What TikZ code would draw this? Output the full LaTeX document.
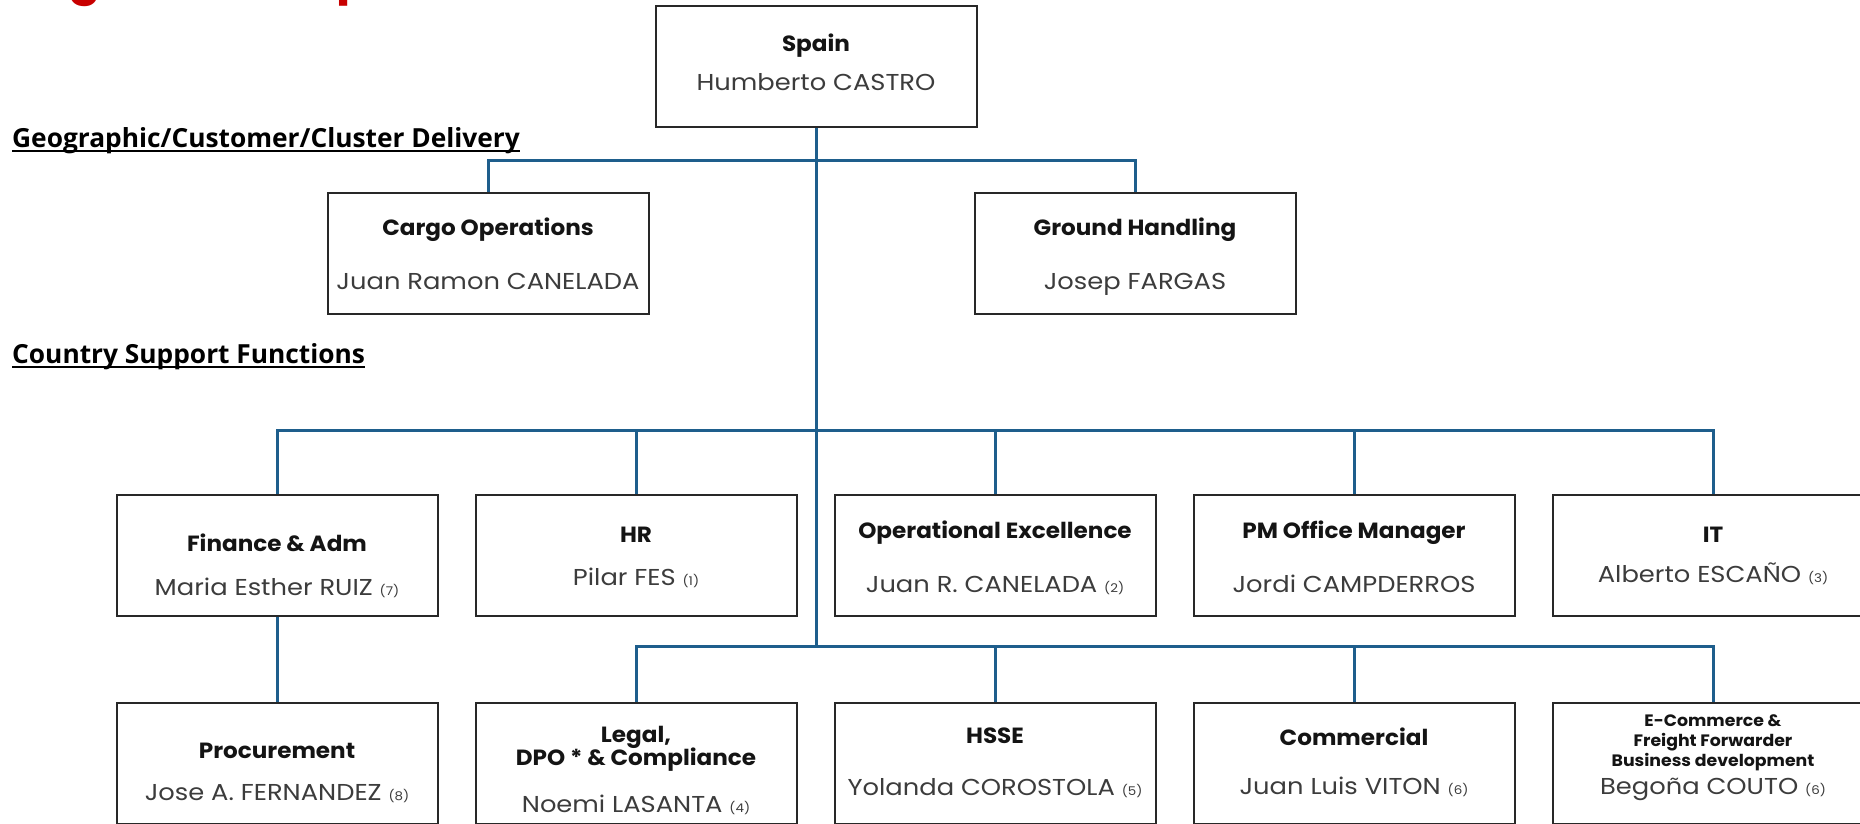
\documentclass[tikz,border=0pt]{standalone}
\usepackage{fontspec}
\newfontfamily\popp{Poppins}
\newfontfamily\poppt{Poppins}[FakeStretch=1.05]
\newfontfamily\poppn{Poppins}[FakeStretch=1.12]
\newfontfamily\osans{Open Sans}
\definecolor{linkblue}{RGB}{30,94,140}
\definecolor{boxline}{RGB}{40,40,40}
\definecolor{titlecol}{RGB}{20,20,20}
\definecolor{namecol}{RGB}{60,60,60}
\definecolor{headred}{RGB}{200,0,0}
\newcommand\titlef{\poppt\bfseries\fontsize{22}{24}\selectfont}
\newcommand\namef{\poppn\fontsize{23}{26}\selectfont}
\newcommand\smallttlf{\poppt\bfseries\fontsize{16.5}{19}\selectfont}
\newcommand\sectf{\osans\bfseries\fontsize{26.3}{29}\selectfont}
\newcommand\fnum[1]{{\fontsize{12}{14}\selectfont(#1)}}
\begin{document}
\begin{tikzpicture}[x=1pt,y=-1pt,
  box/.style={draw=boxline, line width=2pt, minimum width=321pt, minimum height=121pt, inner sep=0pt},
  ttl/.style={anchor=base, inner sep=0pt, text=titlecol, font=\titlef},
  subttl/.style={anchor=base, inner sep=0pt, text=titlecol, font=\smallttlf},
  nm/.style={anchor=base, inner sep=0pt, text=namecol, font=\namef},
  sect/.style={anchor=base west, inner sep=0pt, text=black, font=\sectf},
  underl/.style={draw=black, line width=2pt},
  link/.style={draw=linkblue, line width=3pt}]
\useasboundingbox (0,0) rectangle (1860,823);

% heading, mostly above the page edge
\node[anchor=base west, inner sep=0pt, text=headred,
      font=\popp\bfseries\fontsize{48}{50}\selectfont] (heading) at (10,-7) {Org Chart – Spain};

% section captions, underlined
\node[sect] (geo) at (12,147) {Geographic/Customer/Cluster Delivery};
\node[sect] (csf) at (12,363) {Country Support Functions};
\draw[underl] ([yshift=-3.5pt]geo.base west) -- ([yshift=-3.5pt]geo.base east);
\draw[underl] ([yshift=-3.5pt]csf.base west) -- ([yshift=-3.5pt]csf.base east);

% boxes
\node[box] (spain)  at (816,66.5) {};
\node[box] (cargo)  at (488,253) {};
\node[box] (ground) at (1135,253) {};
\node[box] (fin)    at (277,555.5) {};
\node[box] (hr)     at (636,555.5) {};
\node[box] (opex)   at (995,555.5) {};
\node[box] (pmo)    at (1354,555.5) {};
\node[box] (it)     at (1713,555.5) {};
\node[box] (proc)   at (277,763.5) {};
\node[box] (legal)  at (636,763.5) {};
\node[box] (hsse)   at (995,763.5) {};
\node[box] (comm)   at (1354,763.5) {};
\node[box] (ecom)   at (1713,763.5) {};

% bus junctions on the trunk
\coordinate (busTop) at (816,160);
\coordinate (busMid) at (816,430);
\coordinate (busLow) at (816,646);

% connectors
\draw[link] (spain.south) -- (busLow);
\draw[link] (cargo.north) |- (busTop) -| (ground.north);
\draw[link] (fin.north) |- (busMid) -| (it.north);
\draw[link] (hr.north) -- (hr.north |- busMid);
\draw[link] (opex.north) -- (opex.north |- busMid);
\draw[link] (pmo.north) -- (pmo.north |- busMid);
\draw[link] (fin.south) -- (proc.north);
\draw[link] (legal.north) |- (busLow) -| (ecom.north);
\draw[link] (hsse.north) -- (hsse.north |- busLow);
\draw[link] (comm.north) -- (comm.north |- busLow);

% box texts
\node[ttl] (spainT) at (816,51) {Spain};
\node[nm]  (spainN) at (816,90) {Humberto CASTRO};
\node[ttl] (cargoT) at (488,235) {Cargo Operations};
\node[nm]  (cargoN) at (488,289) {Juan Ramon CANELADA};
\node[ttl] (groundT) at (1135,235) {Ground Handling};
\node[nm]  (groundN) at (1135,289) {Josep FARGAS};

\node[ttl] (finT) at (277,551) {Finance \& Adm};
\node[nm]  (finN) at (277,595) {Maria Esther RUIZ \fnum{7}};
\node[ttl] (hrT) at (636,542) {HR};
\node[nm]  (hrN) at (636,585) {Pilar FES \fnum{1}};
\node[ttl] (opexT) at (995,538) {Operational Excellence};
\node[nm]  (opexN) at (995,592) {Juan R. CANELADA \fnum{2}};
\node[ttl] (pmoT) at (1354,538) {PM Office Manager};
\node[nm]  (pmoN) at (1354,592) {Jordi CAMPDERROS};
\node[ttl] (itT) at (1713,542) {IT};
\node[nm]  (itN) at (1713,582) {Alberto ESCAÑO \fnum{3}};

\node[ttl] (procT) at (277,758) {Procurement};
\node[nm]  (procN) at (277,800) {Jose A. FERNANDEZ \fnum{8}};
\node[ttl] (legalT1) at (636,742) {Legal,};
\node[ttl] (legalT2) at (636,765) {DPO * \& Compliance};
\node[nm]  (legalN) at (636,812) {Noemi LASANTA \fnum{4}};
\node[ttl] (hsseT) at (995,743) {HSSE};
\node[nm]  (hsseN) at (995,795) {Yolanda COROSTOLA \fnum{5}};
\node[ttl] (commT) at (1354,745) {Commercial};
\node[nm]  (commN) at (1354,794) {Juan Luis VITON \fnum{6}};
\node[subttl] (ecomT1) at (1713,726) {E-Commerce \&};
\node[subttl] (ecomT2) at (1713,746) {Freight Forwarder};
\node[subttl] (ecomT3) at (1713,766) {Business development};
\node[nm]  (ecomN) at (1713,794) {Begoña COUTO \fnum{6}};
\end{tikzpicture}
\end{document}
